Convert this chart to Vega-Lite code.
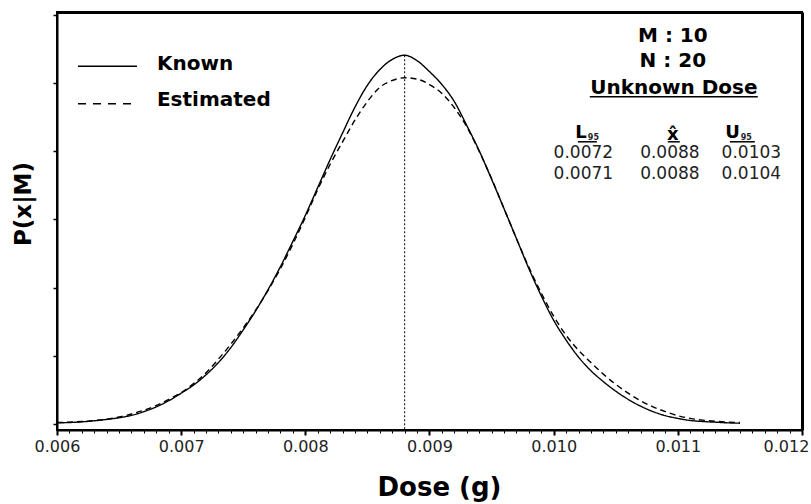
{
 "$schema": "https://vega.github.io/schema/vega-lite/v6.json",
 "width": 745, "height": 418,
 "autosize": {"type": "none"},
 "padding": {"left": 57, "top": 12, "right": 9, "bottom": 74},
 "background": "white",
 "config": {"view": {"stroke": "black", "strokeWidth": 2}, "font": "DejaVu Sans"},
 "resolve": {"axis": {"x": "independent", "y": "independent"}},
 "layer": [
  {
   "data": {"values": [
    {"dose":0.0060,"p":0.015,"series":"Known"},{"dose":0.0061,"p":0.02,"series":"Known"},{"dose":0.0062,"p":0.03,"series":"Known"},{"dose":0.0063,"p":0.045,"series":"Known"},{"dose":0.0064,"p":0.065,"series":"Known"},{"dose":0.0065,"p":0.09,"series":"Known"},{"dose":0.0066,"p":0.125,"series":"Known"},{"dose":0.0067,"p":0.18,"series":"Known"},{"dose":0.0068,"p":0.25,"series":"Known"},{"dose":0.0069,"p":0.34,"series":"Known"},{"dose":0.0070,"p":0.45,"series":"Known"},{"dose":0.0071,"p":0.57,"series":"Known"},{"dose":0.0072,"p":0.72,"series":"Known"},{"dose":0.0073,"p":0.90,"series":"Known"},{"dose":0.0074,"p":1.12,"series":"Known"},{"dose":0.0075,"p":1.38,"series":"Known"},{"dose":0.0076,"p":1.66,"series":"Known"},{"dose":0.0077,"p":1.97,"series":"Known"},{"dose":0.0078,"p":2.31,"series":"Known"},{"dose":0.0079,"p":2.68,"series":"Known"},{"dose":0.0080,"p":3.06,"series":"Known"},{"dose":0.0081,"p":3.47,"series":"Known"},{"dose":0.0082,"p":3.88,"series":"Known"},{"dose":0.0083,"p":4.27,"series":"Known"},{"dose":0.0084,"p":4.65,"series":"Known"},{"dose":0.0085,"p":4.97,"series":"Known"},{"dose":0.0086,"p":5.20,"series":"Known"},{"dose":0.0087,"p":5.35,"series":"Known"},{"dose":0.0088,"p":5.41,"series":"Known"},{"dose":0.0089,"p":5.33,"series":"Known"},{"dose":0.0090,"p":5.17,"series":"Known"},{"dose":0.0091,"p":4.98,"series":"Known"},{"dose":0.0092,"p":4.73,"series":"Known"},{"dose":0.0093,"p":4.38,"series":"Known"},{"dose":0.0094,"p":4.01,"series":"Known"},{"dose":0.0095,"p":3.59,"series":"Known"},{"dose":0.0096,"p":3.16,"series":"Known"},{"dose":0.0097,"p":2.72,"series":"Known"},{"dose":0.0098,"p":2.28,"series":"Known"},{"dose":0.0099,"p":1.88,"series":"Known"},{"dose":0.0100,"p":1.52,"series":"Known"},{"dose":0.0101,"p":1.23,"series":"Known"},{"dose":0.0102,"p":0.98,"series":"Known"},{"dose":0.0103,"p":0.78,"series":"Known"},{"dose":0.0104,"p":0.62,"series":"Known"},{"dose":0.0105,"p":0.48,"series":"Known"},{"dose":0.0106,"p":0.36,"series":"Known"},{"dose":0.0107,"p":0.26,"series":"Known"},{"dose":0.0108,"p":0.18,"series":"Known"},{"dose":0.0109,"p":0.12,"series":"Known"},{"dose":0.0110,"p":0.08,"series":"Known"},{"dose":0.0111,"p":0.05,"series":"Known"},{"dose":0.0112,"p":0.035,"series":"Known"},{"dose":0.0113,"p":0.025,"series":"Known"},{"dose":0.0114,"p":0.015,"series":"Known"},{"dose":0.0115,"p":0.01,"series":"Known"},
    {"dose":0.0060,"p":0.02,"series":"Estimated"},{"dose":0.0061,"p":0.025,"series":"Estimated"},{"dose":0.0062,"p":0.035,"series":"Estimated"},{"dose":0.0063,"p":0.05,"series":"Estimated"},{"dose":0.0064,"p":0.07,"series":"Estimated"},{"dose":0.0065,"p":0.10,"series":"Estimated"},{"dose":0.0066,"p":0.145,"series":"Estimated"},{"dose":0.0067,"p":0.20,"series":"Estimated"},{"dose":0.0068,"p":0.27,"series":"Estimated"},{"dose":0.0069,"p":0.36,"series":"Estimated"},{"dose":0.0070,"p":0.46,"series":"Estimated"},{"dose":0.0071,"p":0.59,"series":"Estimated"},{"dose":0.0072,"p":0.75,"series":"Estimated"},{"dose":0.0073,"p":0.95,"series":"Estimated"},{"dose":0.0074,"p":1.17,"series":"Estimated"},{"dose":0.0075,"p":1.41,"series":"Estimated"},{"dose":0.0076,"p":1.67,"series":"Estimated"},{"dose":0.0077,"p":1.96,"series":"Estimated"},{"dose":0.0078,"p":2.28,"series":"Estimated"},{"dose":0.0079,"p":2.64,"series":"Estimated"},{"dose":0.0080,"p":3.03,"series":"Estimated"},{"dose":0.0081,"p":3.44,"series":"Estimated"},{"dose":0.0082,"p":3.81,"series":"Estimated"},{"dose":0.0083,"p":4.14,"series":"Estimated"},{"dose":0.0084,"p":4.46,"series":"Estimated"},{"dose":0.0085,"p":4.73,"series":"Estimated"},{"dose":0.0086,"p":4.94,"series":"Estimated"},{"dose":0.0087,"p":5.04,"series":"Estimated"},{"dose":0.0088,"p":5.08,"series":"Estimated"},{"dose":0.0089,"p":5.06,"series":"Estimated"},{"dose":0.0090,"p":4.98,"series":"Estimated"},{"dose":0.0091,"p":4.85,"series":"Estimated"},{"dose":0.0092,"p":4.64,"series":"Estimated"},{"dose":0.0093,"p":4.36,"series":"Estimated"},{"dose":0.0094,"p":4.00,"series":"Estimated"},{"dose":0.0095,"p":3.60,"series":"Estimated"},{"dose":0.0096,"p":3.16,"series":"Estimated"},{"dose":0.0097,"p":2.72,"series":"Estimated"},{"dose":0.0098,"p":2.30,"series":"Estimated"},{"dose":0.0099,"p":1.92,"series":"Estimated"},{"dose":0.0100,"p":1.58,"series":"Estimated"},{"dose":0.0101,"p":1.30,"series":"Estimated"},{"dose":0.0102,"p":1.08,"series":"Estimated"},{"dose":0.0103,"p":0.90,"series":"Estimated"},{"dose":0.0104,"p":0.73,"series":"Estimated"},{"dose":0.0105,"p":0.58,"series":"Estimated"},{"dose":0.0106,"p":0.45,"series":"Estimated"},{"dose":0.0107,"p":0.34,"series":"Estimated"},{"dose":0.0108,"p":0.25,"series":"Estimated"},{"dose":0.0109,"p":0.18,"series":"Estimated"},{"dose":0.0110,"p":0.12,"series":"Estimated"},{"dose":0.0111,"p":0.08,"series":"Estimated"},{"dose":0.0112,"p":0.055,"series":"Estimated"},{"dose":0.0113,"p":0.038,"series":"Estimated"},{"dose":0.0114,"p":0.027,"series":"Estimated"},{"dose":0.0115,"p":0.02,"series":"Estimated"}
   ]},
   "mark": {"type": "line", "color": "black", "strokeWidth": 1.4, "interpolate": "monotone"},
   "encoding": {
    "x": {"field": "dose", "type": "quantitative", "scale": {"domain": [0.006, 0.012], "nice": false, "zero": false},
     "axis": {"orient": "bottom", "values": [0.006, 0.007, 0.008, 0.009, 0.010, 0.011, 0.012], "format": ".3f", "grid": false,
      "domainColor": "black", "domainWidth": 2, "tickColor": "black", "tickSize": 5, "tickWidth": 2,
      "labelFont": "DejaVu Sans", "labelFontSize": 16, "labelColor": "#222", "labelPadding": 3, "labelFlush": false, "labelOverlap": false,
      "labelOffset": {"expr": "datum.value > 0.0119 ? -16 : 0"},
      "title": "Dose (g)", "titleFont": "DejaVu Sans", "titleFontSize": 26, "titleFontWeight": "bold", "titleColor": "black",
      "titleX": 382, "titleY": 57, "titleBaseline": "middle", "titleAlign": "center"}},
    "y": {"field": "p", "type": "quantitative", "scale": {"domain": [-0.09, 6.045], "nice": false, "zero": false},
     "axis": {"orient": "left", "values": [0, 1, 2, 3, 4, 5, 6], "labels": false, "grid": false,
      "domainColor": "black", "domainWidth": 2, "tickColor": "black", "tickSize": 4, "tickWidth": 1.5,
      "title": "P(x|M)", "titleFont": "DejaVu Sans", "titleFontSize": 23, "titleFontWeight": "bold", "titleColor": "black",
      "titleAngle": -90, "titleX": -34, "titleY": 191.5, "titleBaseline": "middle", "titleAlign": "center"}},
    "strokeDash": {"field": "series", "type": "nominal", "scale": {"domain": ["Known", "Estimated"], "range": [[1, 0], [6, 4]]}, "legend": null}
   }
  },
  {
   "data": {"values": [{"dose": 0.0088, "p": 5.41}]},
   "mark": {"type": "rule", "color": "black", "strokeWidth": 1, "strokeDash": [2, 2]},
   "encoding": {
    "x": {"field": "dose", "type": "quantitative",
     "axis": {"orient": "bottom", "values": [0.0061,0.0062,0.0063,0.0064,0.0065,0.0066,0.0067,0.0068,0.0069,0.0071,0.0072,0.0073,0.0074,0.0075,0.0076,0.0077,0.0078,0.0079,0.0081,0.0082,0.0083,0.0084,0.0085,0.0086,0.0087,0.0088,0.0089,0.0091,0.0092,0.0093,0.0094,0.0095,0.0096,0.0097,0.0098,0.0099,0.0101,0.0102,0.0103,0.0104,0.0105,0.0106,0.0107,0.0108,0.0109,0.0111,0.0112,0.0113,0.0114,0.0115,0.0116,0.0117,0.0118,0.0119],
      "labels": false, "domain": false, "grid": false, "tickSize": 3, "tickColor": "black", "tickWidth": 1, "title": null}},
    "y": {"field": "p", "type": "quantitative", "axis": null},
    "y2": {"datum": -0.09}
   }
  },
  {
   "data": {"values": [{"series": "Known"}]},
   "mark": {"type": "rule", "color": "black", "strokeWidth": 1.5},
   "encoding": {
    "x": {"datum": 0.006169, "type": "quantitative", "axis": {"orient": "top", "ticks": false, "labels": false, "domainColor": "black", "domainWidth": 3, "grid": false, "title": null}},
    "x2": {"datum": 0.006644},
    "y": {"datum": 5.25, "type": "quantitative", "axis": {"orient": "right", "ticks": false, "labels": false, "domainColor": "black", "domainWidth": 3, "grid": false, "title": null}}
   }
  },
  {
   "data": {"values": [{"series": "Estimated"}]},
   "mark": {"type": "rule", "color": "black", "strokeWidth": 1.5, "strokeDash": [8, 7]},
   "encoding": {
    "x": {"datum": 0.006169, "type": "quantitative", "axis": null},
    "x2": {"datum": 0.006644},
    "y": {"datum": 4.70, "type": "quantitative", "axis": null}
   }
  },
  {"data": {"values": [{"label": "Known"}]}, "mark": {"type": "text", "font": "DejaVu Sans", "fontWeight": "bold", "fontSize": 20, "align": "left", "baseline": "alphabetic", "color": "black"},
   "encoding": {"text": {"field": "label"}, "x": {"datum": 0.006805, "type": "quantitative", "axis": null}, "y": {"datum": 5.20, "type": "quantitative", "axis": null}}},
  {"data": {"values": [{"label": "Estimated"}]}, "mark": {"type": "text", "font": "DejaVu Sans", "fontWeight": "bold", "fontSize": 20, "align": "left", "baseline": "alphabetic", "color": "black"},
   "encoding": {"text": {"field": "label"}, "x": {"datum": 0.006805, "type": "quantitative", "axis": null}, "y": {"datum": 4.66, "type": "quantitative", "axis": null}}},
  {"data": {"values": [{"label": "M : 10"}]}, "mark": {"type": "text", "font": "DejaVu Sans", "fontWeight": "bold", "fontSize": 20, "align": "center", "baseline": "alphabetic", "color": "black"},
   "encoding": {"text": {"field": "label"}, "x": {"datum": 0.01096, "type": "quantitative", "axis": null}, "y": {"datum": 5.60, "type": "quantitative", "axis": null}}},
  {"data": {"values": [{"label": "N : 20"}]}, "mark": {"type": "text", "font": "DejaVu Sans", "fontWeight": "bold", "fontSize": 20, "align": "center", "baseline": "alphabetic", "color": "black"},
   "encoding": {"text": {"field": "label"}, "x": {"datum": 0.01096, "type": "quantitative", "axis": null}, "y": {"datum": 5.24, "type": "quantitative", "axis": null}}},
  {"data": {"values": [{"label": "Unknown Dose"}]}, "mark": {"type": "text", "font": "DejaVu Sans", "fontWeight": "bold", "fontSize": 20, "align": "center", "baseline": "alphabetic", "color": "black"},
   "encoding": {"text": {"field": "label"}, "x": {"datum": 0.010968, "type": "quantitative", "axis": null}, "y": {"datum": 4.835, "type": "quantitative", "axis": null}}},
  {"data": {"values": [{"part": "title"}]}, "mark": {"type": "rule", "color": "black", "strokeWidth": 1.5},
   "encoding": {"x": {"datum": 0.010291, "type": "quantitative", "axis": null}, "x2": {"datum": 0.011644}, "y": {"datum": 4.80, "type": "quantitative", "axis": null}}},
  {"data": {"values": [{"label": "x̂"}]}, "mark": {"type": "text", "font": "DejaVu Sans", "fontWeight": "bold", "fontSize": 18, "align": "center", "baseline": "alphabetic", "color": "black"},
   "encoding": {"text": {"field": "label"}, "x": {"datum": 0.01096, "type": "quantitative", "axis": null}, "y": {"datum": 4.17, "type": "quantitative", "axis": null}}},
  {"data": {"values": [{"label": "L"}]}, "mark": {"type": "text", "font": "DejaVu Sans", "fontWeight": "bold", "fontSize": 18, "align": "right", "baseline": "alphabetic", "color": "black"},
   "encoding": {"text": {"field": "label"}, "x": {"datum": 0.010267, "type": "quantitative", "axis": null}, "y": {"datum": 4.19, "type": "quantitative", "axis": null}}},
  {"data": {"values": [{"label": "95"}]}, "mark": {"type": "text", "font": "DejaVu Sans", "fontWeight": "bold", "fontSize": 8, "align": "left", "baseline": "alphabetic", "color": "#222"},
   "encoding": {"text": {"field": "label"}, "x": {"datum": 0.010275, "type": "quantitative", "axis": null}, "y": {"datum": 4.16, "type": "quantitative", "axis": null}}},
  {"data": {"values": [{"label": "U"}]}, "mark": {"type": "text", "font": "DejaVu Sans", "fontWeight": "bold", "fontSize": 18, "align": "right", "baseline": "alphabetic", "color": "black"},
   "encoding": {"text": {"field": "label"}, "x": {"datum": 0.011499, "type": "quantitative", "axis": null}, "y": {"datum": 4.19, "type": "quantitative", "axis": null}}},
  {"data": {"values": [{"label": "95"}]}, "mark": {"type": "text", "font": "DejaVu Sans", "fontWeight": "bold", "fontSize": 8, "align": "left", "baseline": "alphabetic", "color": "#222"},
   "encoding": {"text": {"field": "label"}, "x": {"datum": 0.011507, "type": "quantitative", "axis": null}, "y": {"datum": 4.16, "type": "quantitative", "axis": null}}},
  {"data": {"values": [{"part": "L"}]}, "mark": {"type": "rule", "color": "black", "strokeWidth": 1.5},
   "encoding": {"x": {"datum": 0.010195, "type": "quantitative", "axis": null}, "x2": {"datum": 0.010348}, "y": {"datum": 4.14, "type": "quantitative", "axis": null}}},
  {"data": {"values": [{"part": "x"}]}, "mark": {"type": "rule", "color": "black", "strokeWidth": 1.5},
   "encoding": {"x": {"datum": 0.010919, "type": "quantitative", "axis": null}, "x2": {"datum": 0.011016}, "y": {"datum": 4.14, "type": "quantitative", "axis": null}}},
  {"data": {"values": [{"part": "U"}]}, "mark": {"type": "rule", "color": "black", "strokeWidth": 1.5},
   "encoding": {"x": {"datum": 0.011419, "type": "quantitative", "axis": null}, "x2": {"datum": 0.01162}, "y": {"datum": 4.14, "type": "quantitative", "axis": null}}},
  {"data": {"values": [{"label": "0.0072"}]}, "mark": {"type": "text", "font": "DejaVu Sans", "fontSize": 17, "align": "center", "baseline": "alphabetic", "color": "#222"},
   "encoding": {"text": {"field": "label"}, "x": {"datum": 0.010239, "type": "quantitative", "axis": null}, "y": {"datum": 3.90, "type": "quantitative", "axis": null}}},
  {"data": {"values": [{"label": "0.0088"}]}, "mark": {"type": "text", "font": "DejaVu Sans", "fontSize": 17, "align": "center", "baseline": "alphabetic", "color": "#222"},
   "encoding": {"text": {"field": "label"}, "x": {"datum": 0.010936, "type": "quantitative", "axis": null}, "y": {"datum": 3.90, "type": "quantitative", "axis": null}}},
  {"data": {"values": [{"label": "0.0103"}]}, "mark": {"type": "text", "font": "DejaVu Sans", "fontSize": 17, "align": "center", "baseline": "alphabetic", "color": "#222"},
   "encoding": {"text": {"field": "label"}, "x": {"datum": 0.011592, "type": "quantitative", "axis": null}, "y": {"datum": 3.90, "type": "quantitative", "axis": null}}},
  {"data": {"values": [{"label": "0.0071"}]}, "mark": {"type": "text", "font": "DejaVu Sans", "fontSize": 17, "align": "center", "baseline": "alphabetic", "color": "#222"},
   "encoding": {"text": {"field": "label"}, "x": {"datum": 0.010239, "type": "quantitative", "axis": null}, "y": {"datum": 3.60, "type": "quantitative", "axis": null}}},
  {"data": {"values": [{"label": "0.0088"}]}, "mark": {"type": "text", "font": "DejaVu Sans", "fontSize": 17, "align": "center", "baseline": "alphabetic", "color": "#222"},
   "encoding": {"text": {"field": "label"}, "x": {"datum": 0.010936, "type": "quantitative", "axis": null}, "y": {"datum": 3.60, "type": "quantitative", "axis": null}}},
  {"data": {"values": [{"label": "0.0104"}]}, "mark": {"type": "text", "font": "DejaVu Sans", "fontSize": 17, "align": "center", "baseline": "alphabetic", "color": "#222"},
   "encoding": {"text": {"field": "label"}, "x": {"datum": 0.011592, "type": "quantitative", "axis": null}, "y": {"datum": 3.60, "type": "quantitative", "axis": null}}}
 ]
}
